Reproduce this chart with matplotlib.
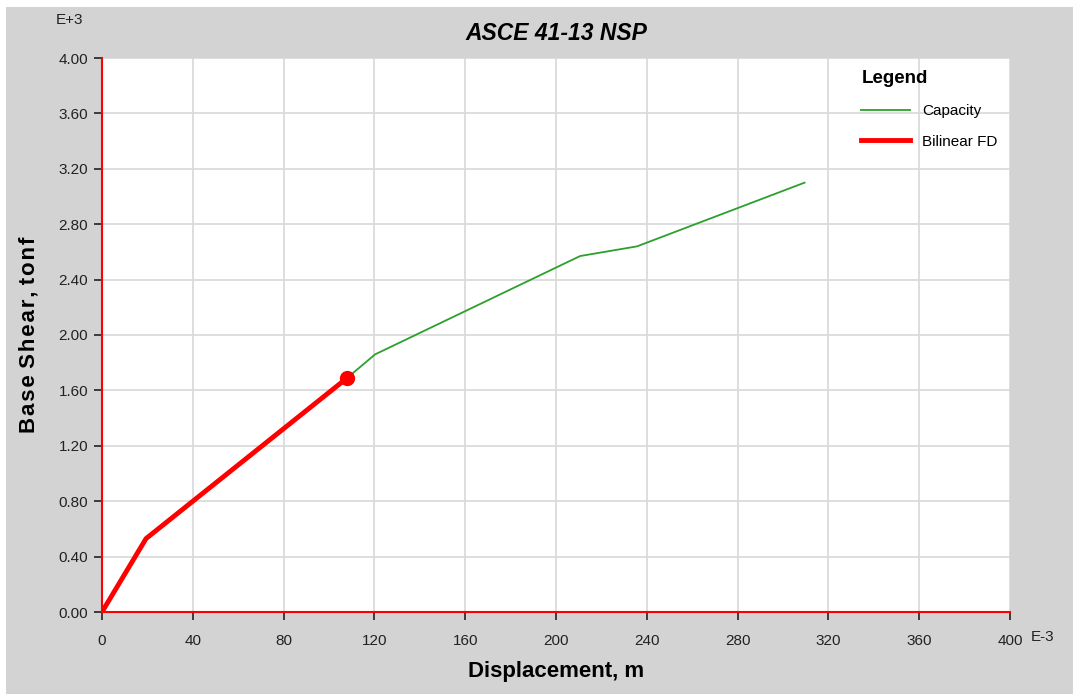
import matplotlib.pyplot as plt
from matplotlib.patches import Rectangle

plt.rcParams['font.family'] = ['Liberation Sans', 'DejaVu Sans']

# data (displacement in E-3 m, base shear in E+3 tonf)
capacity_x = [0, 19.4, 108, 120.3, 210.6, 235.7, 309.5]
capacity_y = [0, 0.53, 1.69, 1.86, 2.57, 2.64, 3.10]
bilinear_x = [0, 19.4, 108]
bilinear_y = [0, 0.53, 1.69]
perf_x = [108]
perf_y = [1.69]

x_ticks = [0, 40, 80, 120, 160, 200, 240, 280, 320, 360, 400]
y_ticks = [0.0, 0.4, 0.8, 1.2, 1.6, 2.0, 2.4, 2.8, 3.2, 3.6, 4.0]

BG = '#d3d3d3'

fig = plt.figure(figsize=(10.73, 6.94), dpi=100, facecolor='white')
fig.patches.append(Rectangle((6 / 1073, 0), 1, 1 - 7 / 694, transform=fig.transFigure,
                             facecolor=BG, edgecolor='none', zorder=-10))

ax = fig.add_axes([102 / 1073, 82 / 694, 908 / 1073, 554 / 694])
ax.set_facecolor('white')

ax.plot(capacity_x, capacity_y, color='#2ca02c', lw=1.3, label='Capacity', zorder=3)
ax.plot(bilinear_x, bilinear_y, color='#ff0000', lw=3.5, label='Bilinear FD', zorder=4)
ax.plot(perf_x, perf_y, 'o', color='#ff0000', ms=10, zorder=5)

ax.set_xlim(0, 400)
ax.set_ylim(0, 4.0)
ax.set_xticks(x_ticks)
ax.set_yticks(y_ticks)
ax.set_xticklabels([str(v) for v in x_ticks])
ax.set_yticklabels([f'{v:.2f}' for v in y_ticks])
ax.tick_params(direction='out', length=6, width=1.2, color='#222222',
               labelsize=11, labelcolor='#222222')
ax.tick_params(axis='x', pad=10)
ax.tick_params(axis='y', pad=4)
ax.grid(True, color='#d8d8d8', lw=1.2)
ax.set_axisbelow(True)

for side in ('top', 'right'):
    ax.spines[side].set_visible(False)
for side in ('left', 'bottom'):
    ax.spines[side].set_color('#ff0000')
    ax.spines[side].set_linewidth(1.5)

ax.set_title('ASCE 41-13 NSP', fontsize=16.5, fontweight='bold', fontstyle='italic', pad=13)
ax.set_xlabel('Displacement, m', fontsize=16, fontweight='bold', labelpad=9)
ax.set_ylabel('B a s e  S h e a r ,  t o n f'.replace('  ', '\u2009 ').replace(' ', '\u200a'),
              fontsize=16, fontweight='bold', labelpad=14)

fig.text(70 / 1073, 1 - 20 / 694, 'E+3', fontsize=11, color='#222222', ha='center', va='center')
fig.text(1031 / 1073, 1 - 637 / 694, 'E-3', fontsize=11, color='#222222', ha='left', va='center')

leg = ax.legend(loc='upper right', bbox_to_anchor=(1.0, 1.0), frameon=False, title='Legend',
                fontsize=11, title_fontproperties={'weight': 'bold', 'size': 13.5},
                handlelength=3.2, handletextpad=0.8, labelspacing=1.1, borderaxespad=0.4)
leg._legend_box.align = 'left'

fig.savefig('out.png', dpi=100, facecolor=fig.get_facecolor())
